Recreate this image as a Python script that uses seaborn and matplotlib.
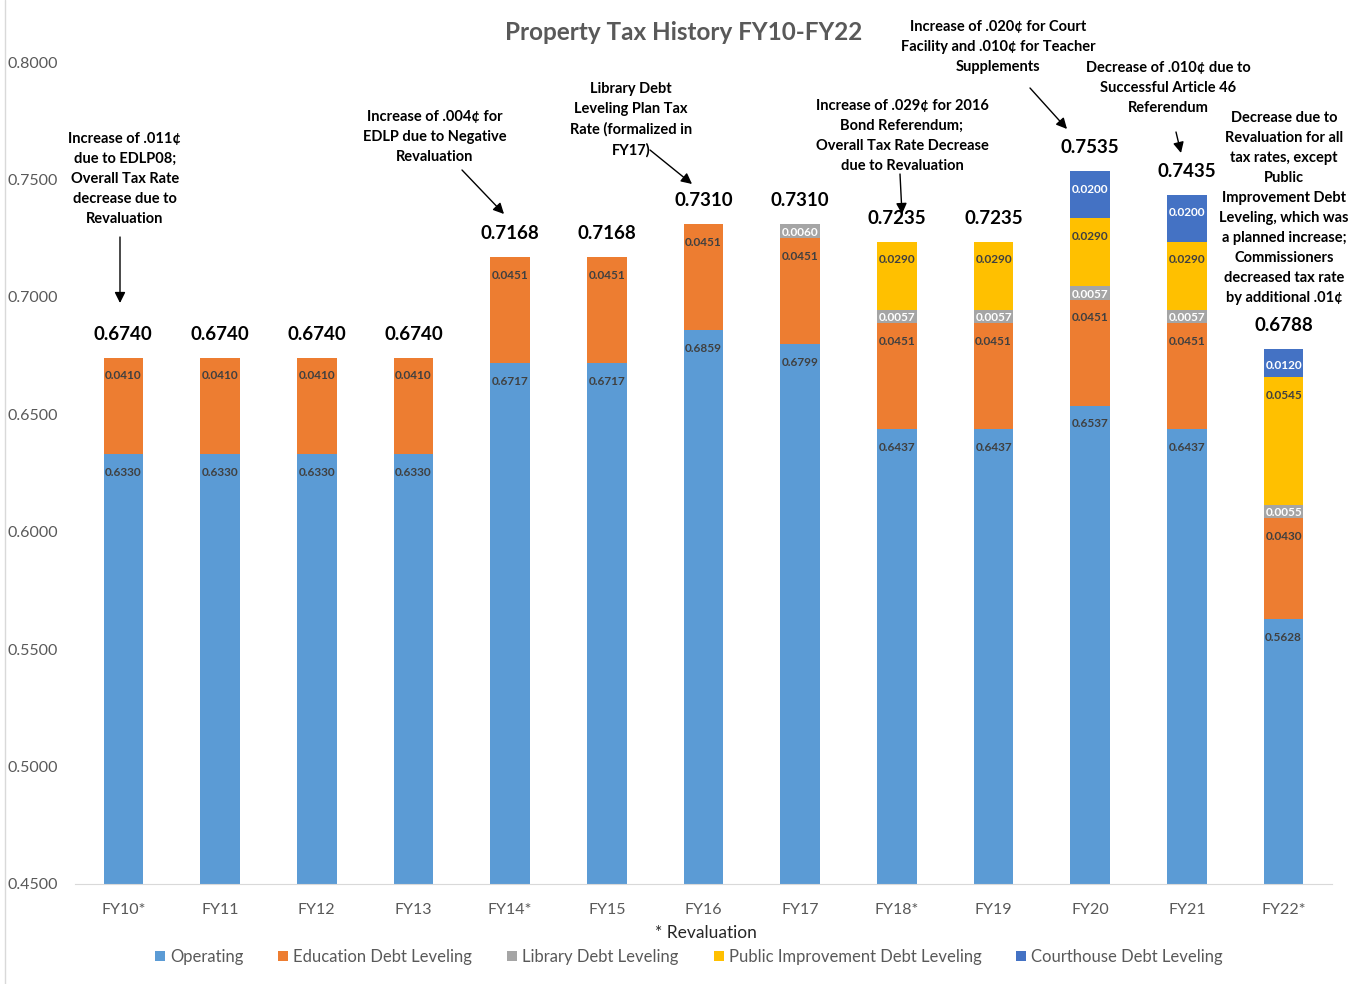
import matplotlib
matplotlib.use("Agg")
import matplotlib.pyplot as plt
import seaborn as sns
import pandas as pd
import numpy as np
from matplotlib.patches import Patch
from matplotlib.lines import Line2D

# Werte
years = ['FY10*', 'FY11', 'FY12', 'FY13', 'FY14*', 'FY15', 'FY16', 'FY17',
         'FY18*', 'FY19', 'FY20', 'FY21', 'FY22*']
operating = [0.6330, 0.6330, 0.6330, 0.6330, 0.6717, 0.6717, 0.6859, 0.6799,
             0.6437, 0.6437, 0.6537, 0.6437, 0.5628]
education = [0.0410, 0.0410, 0.0410, 0.0410, 0.0451, 0.0451, 0.0451, 0.0451,
             0.0451, 0.0451, 0.0451, 0.0451, 0.0430]
library = [0, 0, 0, 0, 0, 0, 0, 0.0060, 0.0057, 0.0057, 0.0057, 0.0057, 0.0055]
public_impr = [0, 0, 0, 0, 0, 0, 0, 0, 0.0290, 0.0290, 0.0290, 0.0290, 0.0545]
courthouse = [0, 0, 0, 0, 0, 0, 0, 0, 0, 0, 0.0200, 0.0200, 0.0120]
totals = ['0.6740', '0.6740', '0.6740', '0.6740', '0.7168', '0.7168', '0.7310',
          '0.7310', '0.7235', '0.7235', '0.7535', '0.7435', '0.6788']

series_names = ['Operating', 'Education Debt Leveling', 'Library Debt Leveling',
                'Public Improvement Debt Leveling', 'Courthouse Debt Leveling']
series_vals = [operating, education, library, public_impr, courthouse]
colors = ['#5B9BD5', '#ED7D31', '#A5A5A5', '#FFC000', '#4472C4']
label_colors = ['#404040', '#404040', 'white', '#404040', 'white']

notes = [
    "Increase of .011\u00a2\ndue to EDLP08;\nOverall Tax Rate\ndecrease due to\nRevaluation",
    "Increase of .004\u00a2 for\nEDLP due to Negative\nRevaluation",
    "Library Debt\nLeveling Plan Tax\nRate (formalized in\nFY17)",
    "Increase of .029\u00a2 for 2016\nBond Referendum;\nOverall Tax Rate Decrease\ndue to Revaluation",
    "Increase of .020\u00a2 for Court\nFacility and .010\u00a2 for Teacher\nSupplements",
    "Decrease of .010\u00a2 due to\nSuccessful Article 46\nReferendum",
    "Decrease due to\nRevaluation for all\ntax rates, except\nPublic\nImprovement Debt\nLeveling, which was\na planned increase;\nCommissioners\ndecreased tax rate\nby additional .01\u00a2",
]

sns.set_style("white")
plt.rcParams['font.family'] = ['Lato', 'DejaVu Sans']

W, H = 1364, 984
fig = plt.figure(figsize=(W / 100, H / 100), dpi=100)


def px(x, y):
    return (x / W, 1 - y / H)


ax = fig.add_axes([75 / W, 1 - 884 / H, (1332 - 75) / W, (884 - 62) / H])

df = pd.DataFrame({'year': years})
cum = np.cumsum(np.array(series_vals), axis=0)
# gestapelt: obere Schichten zuerst zeichnen
for k in range(len(series_vals) - 1, -1, -1):
    df['v'] = cum[k]
    sns.barplot(data=df, x='year', y='v', color=colors[k], saturation=1,
                width=0.41, ax=ax, linewidth=0)

ax.set_ylim(0.45, 0.80)
ax.set_yticks(np.arange(0.45, 0.8001, 0.05))
ax.yaxis.set_major_formatter(matplotlib.ticker.FormatStrFormatter('%.4f'))
ax.set_xlabel('')
ax.set_ylabel('')
ax.tick_params(axis='both', length=0, labelsize=11.5, labelcolor='#595959')
ax.tick_params(axis='x', pad=14)
ax.tick_params(axis='y', pad=12)
for s in ['top', 'right', 'left']:
    ax.spines[s].set_visible(False)
ax.spines['bottom'].set_color('#D9D9D9')

# Segment-Beschriftungen
fig.canvas.draw()
pts_per_unit = (ax.transData.transform((0, 0.5))[1] - ax.transData.transform((0, 0.45))[1]) / 0.05 * 0.72
for k, vals in enumerate(series_vals):
    for i, v in enumerate(vals):
        if v <= 0:
            continue
        top = cum[k][i]
        h = v * pts_per_unit
        off = min(13, h * 0.6)
        ax.annotate(f'{v:.4f}', xy=(i, top), xytext=(0, -off), textcoords='offset points',
                    ha='center', va='center', fontsize=8.5, fontweight='bold',
                    color=label_colors[k])

# Summen über den Balken
for i, t in enumerate(totals):
    ax.annotate(t, xy=(i, cum[-1][i]), xytext=(0, 17), textcoords='offset points',
                ha='center', va='center', fontsize=13.5, fontweight='bold', color='black')

fig.text(*px(684, 33), 'Property Tax History FY10-FY22', ha='center', va='center',
         fontsize=17.5, fontweight='bold', color='#595959')

# Anmerkungen mit Pfeilen
note_pos = [(125, 179), (435, 137), (631, 120), (902, 136), (998, 47), (1168, 88), (1284, 208)]
for txt, (x, y) in zip(notes, note_pos):
    fig.text(*px(x, y), txt, ha='center', va='center', fontsize=10.5, fontweight='bold',
             color='black', linespacing=1.55)

arrows = [((120, 237), (120, 303)), ((462, 170), (504, 214)), ((650, 150), (692, 184)),
          ((900, 174), (902, 214)), ((1030, 88), (1067, 129)), ((1176, 132), (1181, 153))]
for (x0, y0), (x1, y1) in arrows:
    ax.annotate('', xy=px(x1, y1), xytext=px(x0, y0), xycoords='figure fraction',
                textcoords='figure fraction',
                arrowprops=dict(arrowstyle='-|>', color='black', lw=1, mutation_scale=16,
                                shrinkA=0, shrinkB=0))

fig.text(*px(706, 933), '* Revaluation', ha='center', va='center', fontsize=12.5, color='#262626')

handles = [Patch(facecolor=c, edgecolor='none') for c in colors]
leg = fig.legend(handles, series_names, loc='center', bbox_to_anchor=px(689, 957), ncol=5,
                 frameon=False, fontsize=12, handlelength=0.6, handleheight=0.6,
                 handletextpad=0.3, columnspacing=2.1)
for t in leg.get_texts():
    t.set_color('#595959')

fig.add_artist(Line2D([5 / W, 5 / W], [0, 1], color='#D9D9D9', lw=1))

fig.savefig('out.png', dpi=100)
